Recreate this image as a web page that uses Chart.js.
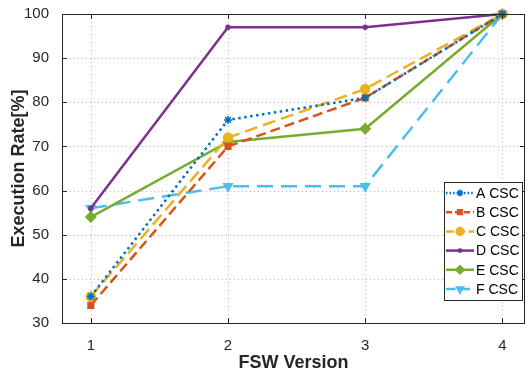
<!DOCTYPE html>
<html>
<head>
<meta charset="utf-8">
<script src="https://cdn.jsdelivr.net/npm/chart.js@4"></script>
<style>
html,body{margin:0;padding:0;background:#fff;}
#wrap{width:527px;height:375px;position:relative;}
</style>
</head>
<body>
<div id="wrap"><canvas id="c" width="527" height="375"></canvas></div>
<script>
const versions = [1, 2, 3, 4];
const seriesA = [36, 76, 81, 100];
const seriesB = [34, 70, 81, 100];
const seriesC = [36, 72, 83, 100];
const seriesD = [56, 97, 97, 100];
const seriesE = [54, 71, 74, 100];
const seriesF = [56, 61, 61, 100];
const seriesNames = ['A CSC', 'B CSC', 'C CSC', 'D CSC', 'E CSC', 'F CSC'];
const xTicks = [1, 2, 3, 4];
const yTicks = [30, 40, 50, 60, 70, 80, 90, 100];

const FONT = '"Liberation Sans", Arial, Helvetica, sans-serif';
const styles = [
  {color:'#0072BD', dash:[2.5,3.5], point:'star', r:4, fill:'#0072BD'},
  {color:'#D95319', dash:[10,5], point:'rect', r:4, fill:'#D95319'},
  {color:'#EDB120', dash:[13,6], point:'circle', r:4.5, fill:'#EDB120'},
  {color:'#7E2F8E', dash:[], point:'circle', r:2, fill:'#7E2F8E'},
  {color:'#77AC30', dash:[], point:'rectRot', r:5, fill:'#77AC30'},
  {color:'#4DBEEE', dash:[16,8], point:'triangle', r:5, fill:'#4DBEEE', rot:180}
];
const allSeries = [seriesA, seriesB, seriesC, seriesD, seriesE, seriesF];

const datasets = allSeries.map((s, i) => ({
  label: seriesNames[i],
  data: s.map((v, j) => ({x: versions[j], y: v})),
  borderColor: styles[i].color,
  backgroundColor: styles[i].fill,
  borderWidth: 2.5,
  borderDash: styles[i].dash,
  borderCapStyle: 'butt',
  pointStyle: styles[i].point,
  pointRadius: styles[i].r,
  pointRotation: styles[i].rot || 0,
  pointBorderWidth: 1.5,
  pointBorderColor: styles[i].color,
  pointBackgroundColor: styles[i].fill,
  tension: 0,
  fill: false,
  clip: false
}));

const gridPlugin = {
  id: 'dottedGrid',
  beforeDatasetsDraw(chart) {
    const {ctx, chartArea: a, scales: {x, y}} = chart;
    ctx.save();
    ctx.strokeStyle = '#b4b4b4';
    ctx.lineWidth = 1;
    ctx.setLineDash([1, 3]);
    ctx.beginPath();
    yTicks.forEach(v => {
      const py = Math.round(y.getPixelForValue(v)) + 0.5;
      ctx.moveTo(a.left, py); ctx.lineTo(a.right, py);
    });
    xTicks.forEach(v => {
      const px = Math.round(x.getPixelForValue(v)) + 0.5;
      ctx.moveTo(px, a.bottom); ctx.lineTo(px, a.top);
    });
    ctx.stroke();
    ctx.restore();
  }
};

const boxPlugin = {
  id: 'box',
  afterDatasetsDraw(chart) {
    const {ctx, chartArea: a, scales: {x, y}} = chart;
    ctx.save();
    ctx.strokeStyle = '#262626';
    ctx.lineWidth = 1;
    ctx.setLineDash([]);
    ctx.beginPath();
    ctx.moveTo(a.left + 0.5, a.bottom + 0.5);
    ctx.lineTo(a.left + 0.5, a.top + 0.5);
    ctx.lineTo(a.right - 0.5, a.top + 0.5);
    ctx.lineTo(a.right - 0.5, a.bottom + 0.5);
    ctx.lineTo(a.left + 0.5, a.bottom + 0.5);
    const tl = 5;
    yTicks.forEach(v => {
      const py = Math.round(y.getPixelForValue(v)) + 0.5;
      ctx.moveTo(a.left, py); ctx.lineTo(a.left + tl, py);
      ctx.moveTo(a.right, py); ctx.lineTo(a.right - tl, py);
    });
    xTicks.forEach(v => {
      const px = Math.round(x.getPixelForValue(v)) + 0.5;
      ctx.moveTo(px, a.bottom); ctx.lineTo(px, a.bottom - tl);
      ctx.moveTo(px, a.top); ctx.lineTo(px, a.top + tl);
    });
    ctx.stroke();
    ctx.restore();
  }
};

const legendPlugin = {
  id: 'customLegend',
  afterDraw(chart) {
    const {ctx} = chart;
    const left = 444, top = 182, w = 78, h = 118;
    ctx.save();
    ctx.fillStyle = '#fff';
    ctx.fillRect(left, top, w, h);
    ctx.strokeStyle = '#262626';
    ctx.lineWidth = 1;
    ctx.setLineDash([]);
    ctx.strokeRect(left + 0.5, top + 0.5, w, h);
    ctx.font = '14px ' + FONT;
    ctx.textBaseline = 'middle';
    ctx.textAlign = 'left';
    const rowH = 19.2;
    chart.data.datasets.forEach((ds, i) => {
      const cy = top + 11 + i * rowH;
      ctx.strokeStyle = ds.borderColor;
      ctx.lineWidth = ds.borderWidth;
      ctx.setLineDash(ds.borderDash.length ? ds.borderDash.map(d => d * 0.6) : []);
      ctx.beginPath();
      ctx.moveTo(left + 2, cy);
      ctx.lineTo(left + 30, cy);
      ctx.stroke();
      ctx.setLineDash([]);
      ctx.fillStyle = ds.pointBackgroundColor;
      ctx.strokeStyle = ds.pointBorderColor;
      ctx.lineWidth = ds.pointBorderWidth;
      Chart.helpers.drawPoint(ctx, {pointStyle: ds.pointStyle, radius: ds.pointRadius * 0.85, rotation: ds.pointRotation, borderWidth: ds.pointBorderWidth}, left + 16, cy);
      ctx.fillStyle = '#000';
      ctx.fillText(ds.label, left + 32, cy + 1);
    });
    ctx.restore();
  }
};

new Chart(document.getElementById('c'), {
  type: 'line',
  data: {datasets},
  options: {
    responsive: false,
    animation: false,
    devicePixelRatio: 1,
    layout: {autoPadding: false, padding: {left: 0, right: 2, top: 14, bottom: 0}},
    plugins: {legend: {display: false}, tooltip: {enabled: false}},
    scales: {
      x: {
        type: 'linear',
        min: 0.79,
        max: 4.165,
        afterBuildTicks: s => { s.ticks = xTicks.map(v => ({value: v})); },
        afterFit: s => { s.height = 52; },
        grid: {display: false},
        border: {display: false},
        ticks: {color: '#262626', font: {family: FONT, size: 15}, padding: 6, maxRotation: 0,
          callback: v => String(v)},
        title: {display: true, text: 'FSW Version', color: '#262626',
          font: {family: FONT, size: 18, weight: 'bold'}, padding: {top: 0, bottom: 1}}
      },
      y: {
        type: 'linear',
        min: 30,
        max: 100,
        afterBuildTicks: s => { s.ticks = yTicks.map(v => ({value: v})); },
        afterFit: s => { s.width = 62; },
        grid: {display: false},
        border: {display: false},
        ticks: {color: '#262626', font: {family: FONT, size: 15}, padding: 5,
          callback: v => String(v)},
        title: {display: true, text: 'Execution Rate[%]', color: '#262626',
          font: {family: FONT, size: 18, weight: 'bold'}, padding: {top: 8, bottom: 0}}
      }
    }
  },
  plugins: [gridPlugin, boxPlugin, legendPlugin]
});
</script>
</body>
</html>
